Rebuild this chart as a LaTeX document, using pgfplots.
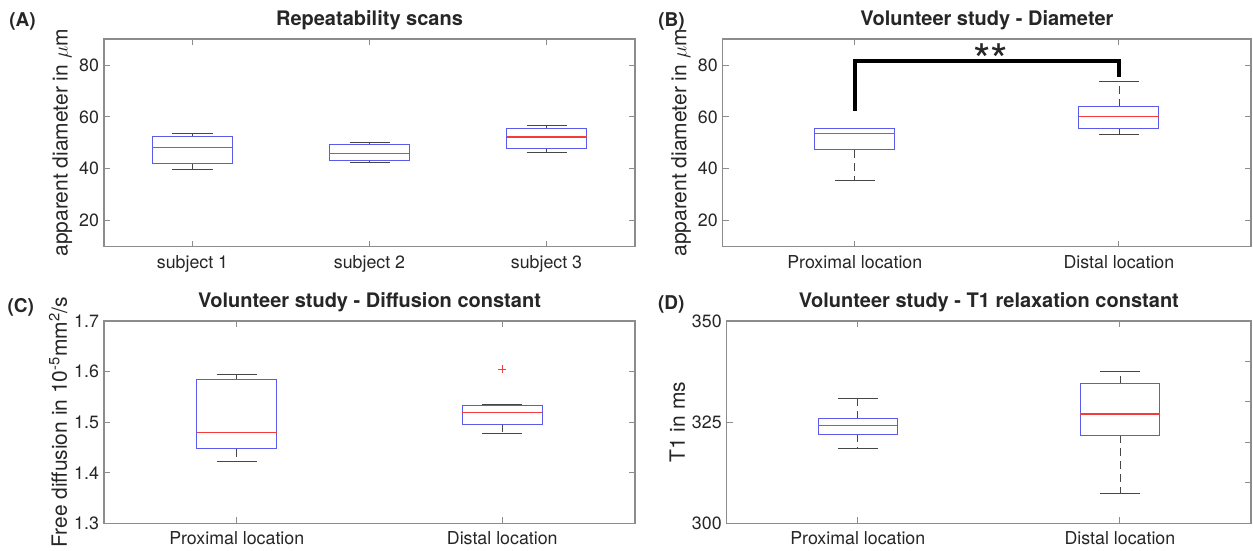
\documentclass[border=0pt]{standalone}
\usepackage{fontspec}
\setmainfont{TeX Gyre Heros}
\usepackage{pgfplots}
\pgfplotsset{compat=1.18}

\definecolor{boxblue}{RGB}{90,90,235}
\definecolor{medred}{RGB}{245,60,60}
\definecolor{whisk}{RGB}{70,70,70}
\definecolor{framegray}{RGB}{140,140,140}
\definecolor{txt}{RGB}{38,38,38}

\newcommand{\tickfont}{\fontsize{17.8}{17.8}\selectfont}
\newcommand{\labelfont}{\fontsize{21}{21}\selectfont}
\newcommand{\titlefont}{\bfseries\fontsize{20}{20}\selectfont}

\tikzset{panel/.style={txt, font=\bfseries\fontsize{19}{19}\selectfont}}

\pgfplotsset{
  mlab/.style={
    scale only axis,
    anchor=south west,
    clip=false,
    axis line style={framegray, line width=1.1pt},
    tick style={framegray, line width=0.9pt},
    major tick length=6pt,
    tick align=inside,
    xtick pos=both, ytick pos=both,
    tick label style={txt, font=\tickfont},
    xticklabel style={yshift=-5pt},
    yticklabel style={xshift=-1.5pt},
    label style={txt, font=\labelfont},
    title style={txt, font=\titlefont},
    /pgf/number format/assume math mode=true,
    xtick={1,2}, xmin=0.5, xmax=2.5,
    xticklabels={Proximal location, Distal location},
    unbounded coords=jump,
  },
  boxpen/.style={draw=boxblue, line width=1pt, line join=miter},
  medpen/.style={draw=medred, line width=1.4pt},
  whiskpen/.style={draw=whisk, line width=0.8pt, dash pattern=on 8pt off 5pt},
  cappen/.style={draw=whisk, line width=0.8pt},
}

\begin{document}
\begin{tikzpicture}
\useasboundingbox (0,0) rectangle (1253pt,551pt);

% (A) repeatability: lw q1 med q3 uw = 39.8 42.0 48.3 52.5 53.6 | 42.4 43.3 46.0 49.2 50.3 | 46.3 47.8 52.2 55.6 56.7
\begin{axis}[mlab,
  at={(104pt,304.3pt)}, width=531pt, height=207.7pt,
  xmin=0.5, xmax=3.5, xtick={1,2,3},
  xticklabels={subject 1, subject 2, subject 3},
  ymin=10, ymax=90, ytick={20,40,60,80},
  title={Repeatability scans},
  ylabel={apparent diameter in $\mu$m}]
\addplot[whiskpen] coordinates {
  (1,52.5) (1,53.6) (1,nan) (1,42.0) (1,39.8) (1,nan)
  (2,49.2) (2,50.3) (2,nan) (2,43.3) (2,42.4) (2,nan)
  (3,55.6) (3,56.7) (3,nan) (3,47.8) (3,46.3)};
\addplot[cappen] coordinates {
  (0.887,53.6) (1.113,53.6) (1,nan) (0.887,39.8) (1.113,39.8) (1,nan)
  (1.887,50.3) (2.113,50.3) (2,nan) (1.887,42.4) (2.113,42.4) (2,nan)
  (2.887,56.7) (3.113,56.7) (3,nan) (2.887,46.3) (3.113,46.3)};
\addplot[boxpen] coordinates {
  (0.774,42.0) (1.226,42.0) (1.226,52.5) (0.774,52.5) (0.774,42.0) (1,nan)
  (1.774,43.3) (2.226,43.3) (2.226,49.2) (1.774,49.2) (1.774,43.3) (2,nan)
  (2.774,47.8) (3.226,47.8) (3.226,55.6) (2.774,55.6) (2.774,47.8)};
\addplot[medpen] coordinates {(0.774,48.3) (1.226,48.3)};
\addplot[medpen] coordinates {(1.774,46.0) (2.226,46.0)};
\addplot[medpen] coordinates {(2.774,52.2) (3.226,52.2)};
\node[panel, xshift=-81.5pt, yshift=18pt] at (rel axis cs:0,1) {(A)};
\end{axis}

% (B) diameter: 35.4 47.3 53.5 55.5 55.6 | 53.3 55.5 60.2 63.9 73.5
\begin{axis}[mlab,
  at={(722.7pt,304.3pt)}, width=528.3pt, height=207.7pt,
  ymin=10, ymax=90, ytick={20,40,60,80},
  title={Volunteer study - Diameter},
  ylabel={apparent diameter in $\mu$m}]
\addplot[whiskpen] coordinates {
  (1,55.5) (1,55.6) (1,nan) (1,47.3) (1,35.4) (1,nan)
  (2,63.9) (2,73.5) (2,nan) (2,55.5) (2,53.3)};
\addplot[cappen] coordinates {
  (0.924,55.6) (1.076,55.6) (1,nan) (0.924,35.4) (1.076,35.4) (1,nan)
  (1.924,73.5) (2.076,73.5) (2,nan) (1.924,53.3) (2.076,53.3)};
\addplot[boxpen] coordinates {
  (0.8485,47.3) (1.1515,47.3) (1.1515,55.5) (0.8485,55.5) (0.8485,47.3) (1,nan)
  (1.8485,55.5) (2.1515,55.5) (2.1515,63.9) (1.8485,63.9) (1.8485,55.5)};
\addplot[medpen] coordinates {(0.8485,53.5) (1.1515,53.5)};
\addplot[medpen] coordinates {(1.8485,60.2) (2.1515,60.2)};
\addplot[black, line width=4pt, line join=miter]
  coordinates {(1,62.4) (1,81.5) (2,81.5) (2,75.3)};
\node[txt, font=\fontsize{45}{45}\selectfont, anchor=base, yshift=-15.8pt]
  at (axis cs:1.514,81.5) {**};
\node[panel, xshift=-51.2pt, yshift=18pt] at (rel axis cs:0,1) {(B)};
\end{axis}

% (C) diffusion: 1.422 1.447 1.480 1.584 1.595 | 1.478 1.496 1.519 1.532 1.535, outlier 1.605
\begin{axis}[mlab,
  at={(104pt,27.7pt)}, width=531pt, height=202.3pt,
  ymin=1.3, ymax=1.7, ytick={1.3,1.4,1.5,1.6,1.7},
  yticklabel style={/pgf/number format/.cd, fixed, fixed zerofill, precision=1},
  title={Volunteer study - Diffusion constant},
  ylabel={Free diffusion in 10\textsuperscript{-5}mm\textsuperscript{2}/s}]
\addplot[whiskpen] coordinates {
  (1,1.584) (1,1.595) (1,nan) (1,1.447) (1,1.422) (1,nan)
  (2,1.532) (2,1.535) (2,nan) (2,1.496) (2,1.478)};
\addplot[cappen] coordinates {
  (0.924,1.595) (1.076,1.595) (1,nan) (0.924,1.422) (1.076,1.422) (1,nan)
  (1.924,1.535) (2.076,1.535) (2,nan) (1.924,1.478) (2.076,1.478)};
\addplot[boxpen] coordinates {
  (0.8485,1.447) (1.1515,1.447) (1.1515,1.584) (0.8485,1.584) (0.8485,1.447) (1,nan)
  (1.8485,1.496) (2.1515,1.496) (2.1515,1.532) (1.8485,1.532) (1.8485,1.496)};
\addplot[medpen] coordinates {(0.8485,1.480) (1.1515,1.480)};
\addplot[medpen] coordinates {(1.8485,1.519) (2.1515,1.519)};
\addplot[only marks, mark=+, mark size=4pt, mark options={medred, line width=0.8pt}]
  coordinates {(2,1.605)};
\node[panel, xshift=-83.2pt, yshift=13.5pt] at (rel axis cs:0,1) {(C)};
\end{axis}

% (D) T1: 318.6 322.0 324.1 325.8 330.8 | 307.4 321.8 327.0 334.5 337.5
\begin{axis}[mlab,
  at={(726.7pt,27.7pt)}, width=524.3pt, height=202.3pt,
  ymin=300, ymax=350, ytick={300,325,350}, ytick pos=left,
  title={Volunteer study - T1 relaxation constant},
  ylabel={T1 in ms}]
\addplot[whiskpen] coordinates {
  (1,325.8) (1,330.8) (1,nan) (1,322.0) (1,318.6) (1,nan)
  (2,334.5) (2,337.5) (2,nan) (2,321.8) (2,307.4)};
\addplot[cappen] coordinates {
  (0.924,330.8) (1.076,330.8) (1,nan) (0.924,318.6) (1.076,318.6) (1,nan)
  (1.924,337.5) (2.076,337.5) (2,nan) (1.924,307.4) (2.076,307.4)};
\addplot[boxpen] coordinates {
  (0.8485,322.0) (1.1515,322.0) (1.1515,325.8) (0.8485,325.8) (0.8485,322.0) (1,nan)
  (1.8485,321.8) (2.1515,321.8) (2.1515,334.5) (1.8485,334.5) (1.8485,321.8)};
\addplot[medpen] coordinates {(0.8485,324.1) (1.1515,324.1)};
\addplot[medpen] coordinates {(1.8485,327.0) (2.1515,327.0)};
\node[panel, xshift=-55.4pt, yshift=16.8pt] at (rel axis cs:0,1) {(D)};
\end{axis}
\begin{axis}[mlab,
  at={(726.7pt,27.7pt)}, width=524.3pt, height=202.3pt,
  ymin=300, ymax=350, ytick={310,320,330,340}, ytick pos=right,
  yticklabel=\empty, xtick=\empty, axis line style={draw=none}]
\end{axis}
\end{tikzpicture}
\end{document}
